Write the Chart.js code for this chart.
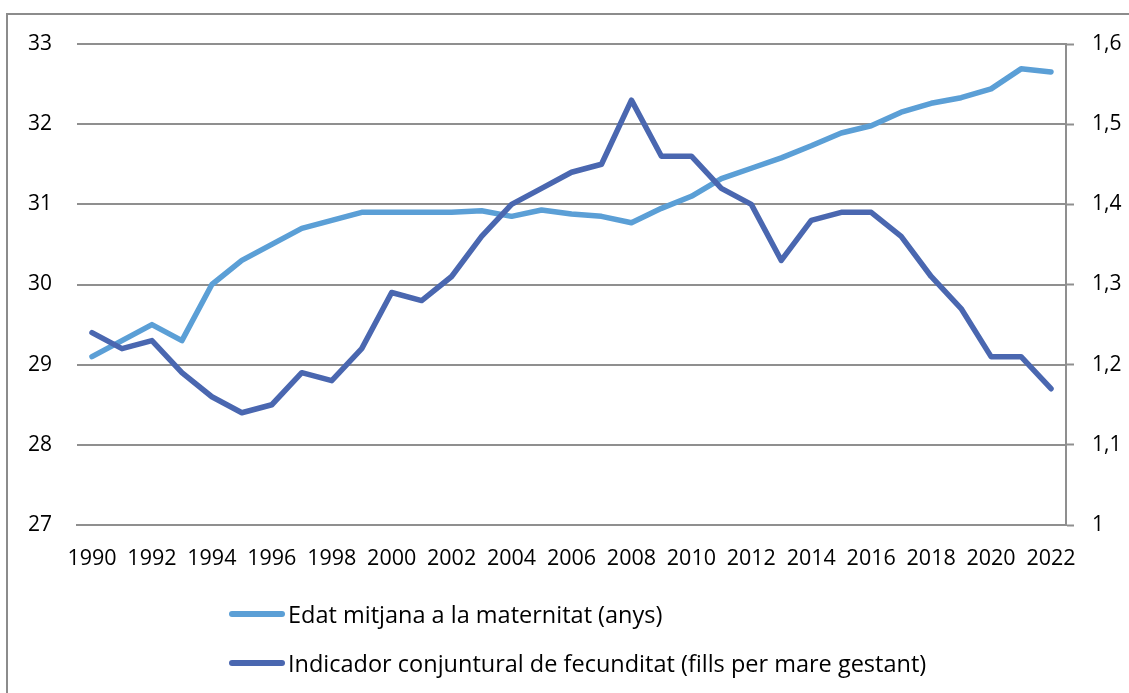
<!DOCTYPE html>
<html>
<head>
<meta charset="utf-8">
<script src="https://cdn.jsdelivr.net/npm/chart.js@4.4.1/dist/chart.umd.min.js"></script>
<style>
  html, body { margin: 0; padding: 0; background: #fff; }
  #wrap { position: relative; width: 1129px; height: 693px; overflow: hidden; }
  #frame { position: absolute; left: 6px; top: 13px; width: 1200px; height: 800px;
           border-left: 2px solid #8c8c8c; border-top: 2px solid #8c8c8c; box-sizing: border-box; }
  canvas { position: absolute; left: 0; top: 0; }
  #legend { position: absolute; left: 229px; top: 589px; font-family: "Open Sans", sans-serif;
            font-size: 23.5px; color: #000; }
  .item { display: flex; align-items: center; height: 49px; }
  .sw { width: 56px; height: 6px; border-radius: 3px; margin-right: 3px; }
</style>
</head>
<body>
<div id="wrap">
  <div id="frame"></div>
  <canvas id="c" width="1129" height="693"></canvas>
  <div id="legend"></div>
</div>
<script>
const years = [];
for (let y = 1990; y <= 2022; y++) years.push(String(y));

const seriesNames = [
  "Edat mitjana a la maternitat (anys)",
  "Indicador conjuntural de fecunditat (fills per mare gestant)"
];

const edatMitjana = [
  29.1, 29.3, 29.5, 29.3, 30.0, 30.3, 30.5, 30.7, 30.8, 30.9,
  30.9, 30.9, 30.9, 30.92, 30.85, 30.93, 30.88, 30.85, 30.77, 30.95,
  31.1, 31.32, 31.45, 31.58, 31.73, 31.89, 31.98, 32.15, 32.26, 32.33,
  32.44, 32.69, 32.65
];

const fecunditat = [
  1.24, 1.22, 1.23, 1.19, 1.16, 1.14, 1.15, 1.19, 1.18, 1.22,
  1.29, 1.28, 1.31, 1.36, 1.40, 1.42, 1.44, 1.45, 1.53, 1.46,
  1.46, 1.42, 1.40, 1.33, 1.38, 1.39, 1.39, 1.36, 1.31, 1.27,
  1.21, 1.21, 1.17
];

const colors = ["#5b9fd6", "#4a67b0"];
const gridColor = "#8f8f8f";
const yFont = { family: "Open Sans", size: 21 };
const xFont = { family: "Open Sans", size: 21.5 };

const chart = new Chart(document.getElementById("c"), {
  type: "line",
  data: {
    labels: years,
    datasets: [
      { label: seriesNames[0], data: edatMitjana, yAxisID: "y", borderColor: colors[0],
        backgroundColor: colors[0], borderWidth: 5.5, pointRadius: 0, tension: 0,
        borderCapStyle: "round", borderJoinStyle: "round", order: 2 },
      { label: seriesNames[1], data: fecunditat, yAxisID: "y1", borderColor: colors[1],
        backgroundColor: colors[1], borderWidth: 5.5, pointRadius: 0, tension: 0,
        borderCapStyle: "round", borderJoinStyle: "round", order: 1 }
    ]
  },
  options: {
    responsive: false,
    animation: false,
    layout: { padding: { top: 44, bottom: 118, left: 0, right: 0 } },
    plugins: { legend: { display: false }, tooltip: { enabled: false } },
    scales: {
      x: {
        offset: true,
        grid: { display: false, drawTicks: false },
        border: { display: true, color: gridColor, width: 2 },
        ticks: {
          autoSkip: false, maxRotation: 0, minRotation: 0, padding: 21,
          color: "#000", font: xFont,
          callback: function (v, i) { return i % 2 === 0 ? this.getLabelForValue(v) : ""; }
        },
        afterFit: s => { s.height = 50; }
      },
      y: {
        position: "left", min: 27, max: 33,
        grid: { color: gridColor, lineWidth: 2, drawTicks: false },
        border: { display: false },
        ticks: { stepSize: 1, padding: 25, color: "#000", font: yFont },
        afterFit: s => { s.width = 77; }
      },
      y1: {
        position: "right", min: 1, max: 1.6,
        grid: { drawOnChartArea: false, drawTicks: true, tickLength: 8, tickColor: gridColor, tickWidth: 2 },
        border: { display: true, color: gridColor, width: 2 },
        ticks: {
          stepSize: 0.1, padding: 18, color: "#000", font: yFont,
          callback: v => String(Math.round(v * 10) / 10).replace(".", ",")
        },
        afterFit: s => { s.width = 63; }
      }
    }
  }
});

const leg = document.getElementById("legend");
chart.data.datasets.forEach(ds => {
  const it = document.createElement("div");
  it.className = "item";
  const sw = document.createElement("span");
  sw.className = "sw";
  sw.style.background = ds.borderColor;
  const tx = document.createElement("span");
  tx.textContent = ds.label;
  it.appendChild(sw); it.appendChild(tx);
  leg.appendChild(it);
});
</script>
</body>
</html>
